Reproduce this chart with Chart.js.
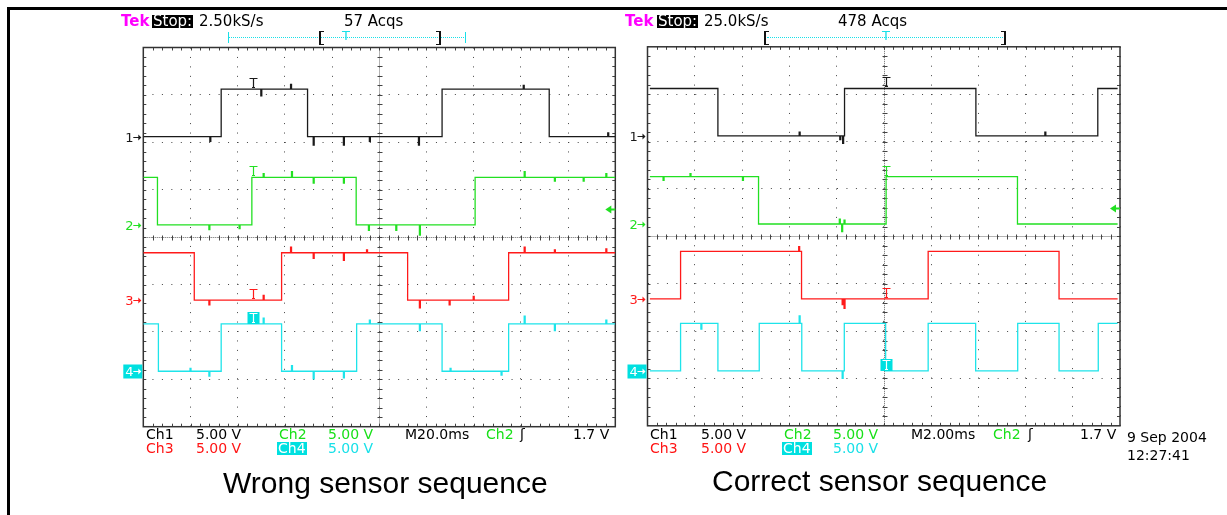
<!DOCTYPE html>
<html>
<head>
<meta charset="utf-8">
<script src="https://cdn.jsdelivr.net/npm/chart.js@4"></script>
<style>
  html, body { margin: 0; padding: 0; background: #fff; }
  #page { position: relative; width: 1227px; height: 515px; overflow: hidden; font-family: "DejaVu Sans", sans-serif; }
  #page canvas { position: absolute; left: 0; top: 0; }
  .frame { position: absolute; left: 7px; top: 7px; width: 1230px; height: 520px; border-top: 3px solid #000; border-left: 3px solid #000; }
  .t { position: absolute; font-size: 14px; line-height: 14px; white-space: pre; color: #000; }
  .top { font-size: 15px; line-height: 15px; }
  .tek { color: #ff00ff; font-weight: bold; }
  .stop { background: #000; color: #fff; height: 13px; line-height: 13px; padding: 0 1px; }
  .box4 { background: #00e0e0; color: #fff; height: 13px; line-height: 13px; padding: 0 1px; }
  .g { color: #18e018; }
  .r { color: #ff1414; }
  .c { color: #18e0e8; }
  .cap { position: absolute; font-family: "Liberation Sans", Arial, sans-serif; font-size: 30px; line-height: 30px; white-space: pre; color: #000; }
  .hline { position: absolute; height: 0; border-top: 1px dotted #18e0e8; }
  .vtick { position: absolute; width: 0; height: 11px; border-left: 1px solid #18e0e8; }
  .brk { position: absolute; width: 3px; height: 12px; border: 0 solid #111; }
</style>
</head>
<body>
<div id="page">
  <div class="frame"></div>
  <canvas id="wrongChart" width="1227" height="515"></canvas>
  <canvas id="rightChart" width="1227" height="515"></canvas>

  <!-- left scope header -->
  <div class="t top tek" style="left:121px;top:14px;">Tek</div>
  <div class="t top stop" style="left:152px;top:15px;">Stop:</div>
  <div class="t top" style="left:199px;top:14px;">2.50kS/s</div>
  <div class="t top" style="left:344px;top:14px;">57 Acqs</div>
  <div class="hline" style="left:228px;top:37px;width:238px;"></div>
  <div class="vtick" style="left:228px;top:32px;"></div>
  <div class="vtick" style="left:465px;top:32px;"></div>
  <div class="brk" style="left:319px;top:31px;border-width:1px 0 1px 2px;"></div>
  <div class="brk" style="left:436px;top:31px;border-width:1px 2px 1px 0;"></div>
  <div class="t c" style="left:342px;top:29px;font-size:13px;">T</div>

  <!-- right scope header -->
  <div class="t top tek" style="left:625px;top:14px;">Tek</div>
  <div class="t top stop" style="left:657px;top:15px;">Stop:</div>
  <div class="t top" style="left:704px;top:14px;">25.0kS/s</div>
  <div class="t top" style="left:838px;top:14px;">478 Acqs</div>
  <div class="hline" style="left:767px;top:37px;width:236px;"></div>
  <div class="brk" style="left:764px;top:31px;border-width:1px 0 1px 2px;"></div>
  <div class="brk" style="left:1001px;top:31px;border-width:1px 2px 1px 0;"></div>
  <div class="t c" style="left:882px;top:29px;font-size:13px;">T</div>

  <!-- left scope footer -->
  <div class="t" style="left:146px;top:427px;">Ch1</div>
  <div class="t" style="left:196px;top:427px;">5.00 V</div>
  <div class="t g" style="left:279px;top:427px;">Ch2</div>
  <div class="t g" style="left:328px;top:427px;">5.00 V</div>
  <div class="t" style="left:405px;top:427px;">M20.0ms</div>
  <div class="t g" style="left:486px;top:427px;">Ch2</div>
  <div class="t" style="left:520px;top:427px;">ʃ</div>
  <div class="t" style="left:573px;top:427px;">1.7 V</div>
  <div class="t r" style="left:146px;top:441px;">Ch3</div>
  <div class="t r" style="left:196px;top:441px;">5.00 V</div>
  <div class="t box4" style="left:277px;top:442px;">Ch4</div>
  <div class="t c" style="left:328px;top:441px;">5.00 V</div>

  <!-- right scope footer -->
  <div class="t" style="left:650px;top:427px;">Ch1</div>
  <div class="t" style="left:701px;top:427px;">5.00 V</div>
  <div class="t g" style="left:784px;top:427px;">Ch2</div>
  <div class="t g" style="left:833px;top:427px;">5.00 V</div>
  <div class="t" style="left:911px;top:427px;">M2.00ms</div>
  <div class="t g" style="left:993px;top:427px;">Ch2</div>
  <div class="t" style="left:1028px;top:427px;">ʃ</div>
  <div class="t" style="left:1080px;top:427px;">1.7 V</div>
  <div class="t r" style="left:650px;top:441px;">Ch3</div>
  <div class="t r" style="left:701px;top:441px;">5.00 V</div>
  <div class="t box4" style="left:782px;top:442px;">Ch4</div>
  <div class="t c" style="left:833px;top:441px;">5.00 V</div>
  <div class="t" style="left:1127px;top:430px;">9 Sep 2004</div>
  <div class="t" style="left:1127px;top:448px;">12:27:41</div>

  <div class="cap" style="left:223px;top:468px;">Wrong sensor sequence</div>
  <div class="cap" style="left:712px;top:466px;">Correct sensor sequence</div>
</div>

<script>
// Hall sensor traces read off two scope captures
// each point is [time in ms from left edge of screen, volts]; level holds until next point

const voltsPerDiv = 5;
const channelColors = ["#1a1a1a", "#22e022", "#ff1a1a", "#1ee4ea"];

// --- wrong sequence, 20 ms/div ---
const wrongTimeMax = 200;
const wrongGround = [2.12, 0.26, -1.33, -2.83];   // ground marker, divisions from centre
const wrongTrigTime = 46.4;
const wrongCh1 = [[0,0],[28.2,-0.5],[28.6,0],[33,5],[49.8,4.3],[50.2,5],[62.4,5.5],[62.8,5],[69.6,0],[72,-0.9],[72.4,0],[84.8,-0.9],[85.2,0],[95.8,-0.5],[96.2,0],[116.6,-0.9],[117,0],[126.6,5],[161,5.4],[161.4,5],[172,0],[196.8,0.4],[197.2,0],[200,0]];
const wrongCh2 = [[0,5],[6,0],[27.8,-0.5],[28.2,0],[40.6,-0.4],[41,0],[46,5],[50.8,5.4],[51.2,5],[62.8,5.6],[63.2,5],[72,4.4],[72.4,5],[84.8,4.4],[85.2,5],[90.2,0],[95.4,-0.6],[95.8,0],[107,-0.6],[107.4,0],[117,-1.1],[117.4,0],[140.6,5],[161.4,5.6],[161.8,5],[174.2,4.6],[174.6,5],[186.4,4.6],[186.8,5],[196,5.4],[196.4,5],[200,5]];
const wrongCh3 = [[0,5],[21.6,0],[27.8,-0.5],[28.2,0],[50.8,0.5],[51.2,0],[58.6,5],[62.4,5.6],[62.8,5],[72,4.4],[72.4,5],[84.8,4.2],[85.2,5],[94.6,5.3],[95,5],[112,0],[117,-0.8],[117.4,0],[129.6,-0.5],[130,0],[139.8,0.4],[140.2,0],[154.8,5],[161.4,5.6],[161.8,5],[174.2,5.3],[174.6,5],[196,5.4],[196.4,5],[200,5]];
const wrongCh4 = [[0,5],[6.4,0],[19.8,0.3],[20.2,0],[27.8,-0.5],[28.2,0],[33,5],[50.8,5.6],[51.2,5],[58.6,0],[62.8,0.6],[63.2,0],[72,-0.8],[72.4,0],[84.8,-0.7],[85.2,0],[90.4,5],[95.8,5.4],[96.2,5],[117,4.3],[117.4,5],[126.6,0],[130,0.3],[130.4,0],[151.6,-0.4],[152,0],[154.8,5],[161.4,5.8],[161.8,5],[174.2,4.3],[174.6,5],[196,5.4],[196.4,5],[200,5]];

// --- correct sequence, 2 ms/div ---
const rightTimeMax = 20;
const rightGround = [2.12, 0.26, -1.32, -2.84];
const rightTrigTime = 10.1;
const rightCh1 = [[0.1,5],[2.98,0],[6.42,0.4],[6.46,0],[8.14,-0.4],[8.18,0],[8.26,-0.8],[8.3,0],[8.34,5],[13.9,0],[16.82,0.4],[16.86,0],[19.06,5],[19.9,5]];
const rightCh2 = [[0.1,5],[0.66,4.6],[0.7,5],[1.8,5.3],[1.84,5],[4.02,4.6],[4.06,5],[4.7,0],[8.12,0.5],[8.16,0],[8.22,-0.8],[8.26,0],[8.32,0.4],[8.36,0],[10.1,5],[15.66,0],[19.9,0]];
const rightCh3 = [[0.1,0],[1.4,5],[6.4,5.5],[6.44,5],[6.52,0],[8.24,-0.6],[8.28,0],[8.32,-1],[8.36,0],[11.88,5],[17.42,0],[19.9,0]];
const rightCh4 = [[0.1,0],[1.4,5],[2.26,4.4],[2.3,5],[2.98,0],[4.73,5],[6.42,5.8],[6.46,5],[6.53,0],[8.24,-0.8],[8.28,0],[8.33,5],[10.08,0],[11.88,5],[13.89,0],[15.67,5],[17.42,0],[19.08,5],[19.9,5]];

const trigLevel = 1.7; // volts, on Ch2

function levelAt(trace, t) {
    let v = trace[0][1];
    for (const p of trace) { if (p[0] <= t) v = p[1]; }
    return v;
}

// graticule, ground markers, trigger marks
const scopePlugin = {
    id: "scope",
    beforeDatasetsDraw(chart) {
        const { ctx, chartArea: a, scales: { x, y } } = chart;
        const subX = (x.max - x.min) / 50, subY = (y.max - y.min) / 40;
        const cx = Math.round(x.getPixelForValue((x.min + x.max) / 2)) + 0.5;
        const cy = Math.round(y.getPixelForValue(0)) + 0.5;
        ctx.save();
        ctx.lineWidth = 1;
        ctx.strokeStyle = "#666";
        ctx.setLineDash([1, 1]);
        ctx.beginPath();
        ctx.moveTo(cx, a.top); ctx.lineTo(cx, a.bottom);
        ctx.moveTo(a.left, cy); ctx.lineTo(a.right, cy);
        ctx.stroke();
        ctx.setLineDash([]);
        ctx.strokeStyle = "#444";
        ctx.beginPath();
        for (let i = 1; i < 40; i++) {
            const py = Math.round(y.getPixelForValue(y.min + i * subY)) + 0.5;
            ctx.moveTo(cx - 2, py); ctx.lineTo(cx + 3, py);
            ctx.moveTo(a.left, py); ctx.lineTo(a.left + 3, py);
            ctx.moveTo(a.right - 3, py); ctx.lineTo(a.right, py);
        }
        for (let i = 1; i < 50; i++) {
            const px = Math.round(x.getPixelForValue(x.min + i * subX)) + 0.5;
            ctx.moveTo(px, cy - 2); ctx.lineTo(px, cy + 3);
            ctx.moveTo(px, a.top); ctx.lineTo(px, a.top + 3);
            ctx.moveTo(px, a.bottom - 3); ctx.lineTo(px, a.bottom);
        }
        ctx.stroke();
        ctx.strokeStyle = "#333";
        ctx.lineWidth = 1.5;
        ctx.strokeRect(a.left, a.top, a.right - a.left, a.bottom - a.top);
        ctx.restore();
    },
    afterDatasetsDraw(chart, args, opts) {
        const { ctx, chartArea: a, scales: { x, y } } = chart;
        ctx.save();
        ctx.font = "13px 'DejaVu Sans'";
        ctx.textBaseline = "middle";
        ctx.lineWidth = 1;

        // ground markers "n->"
        opts.grounds.forEach((g, i) => {
            const py = Math.round(y.getPixelForValue(g)) + 0.5;
            let col = channelColors[i];
            if (i === 3) {
                ctx.fillStyle = "#00e0e0";
                ctx.fillRect(a.left - 20, py - 7, 19, 14);
                col = "#fff";
            }
            ctx.fillStyle = col;
            ctx.strokeStyle = col;
            ctx.fillText(String(i + 1), a.left - 18, py + 1);
            ctx.beginPath();
            ctx.moveTo(a.left - 10, py); ctx.lineTo(a.left - 3, py);
            ctx.stroke();
            ctx.beginPath();
            ctx.moveTo(a.left - 2, py); ctx.lineTo(a.left - 5, py - 3); ctx.lineTo(a.left - 5, py + 3);
            ctx.fill();
        });

        // trigger level arrow on the right
        const ty = Math.round(y.getPixelForValue(opts.grounds[1] + trigLevel / voltsPerDiv)) + 0.5;
        ctx.fillStyle = channelColors[1];
        ctx.strokeStyle = channelColors[1];
        ctx.beginPath();
        ctx.moveTo(a.right - 10, ty); ctx.lineTo(a.right - 4, ty - 4); ctx.lineTo(a.right - 4, ty + 4);
        ctx.fill();
        ctx.lineWidth = 2;
        ctx.beginPath(); ctx.moveTo(a.right - 5, ty); ctx.lineTo(a.right, ty); ctx.stroke();

        // trigger point "T" on each trace
        const px = Math.round(x.getPixelForValue(opts.trigTime)) + 0.5;
        opts.traces.forEach((tr, i) => {
            const py = Math.round(y.getPixelForValue(opts.grounds[i] + levelAt(tr, opts.trigTime) / voltsPerDiv));
            let col = channelColors[i];
            if (i === 3) {
                ctx.fillStyle = "#00e0e0";
                ctx.fillRect(px - 6, py - 12, 12, 12);
                col = "#fff";
            }
            ctx.strokeStyle = col;
            ctx.lineWidth = 1.2;
            ctx.beginPath();
            ctx.moveTo(px - 4, py - 10.5); ctx.lineTo(px + 4, py - 10.5);
            ctx.moveTo(px, py - 10.5); ctx.lineTo(px, py - 1);
            ctx.moveTo(px - 1.5, py - 1.5); ctx.lineTo(px + 1.5, py - 1.5);
            ctx.stroke();
        });
        ctx.restore();
    }
};

function makeScope(canvasId, pad, timeMax, traces, grounds, trigTime) {
    const datasets = traces.map((tr, i) => ({
        data: tr.map(p => ({ x: p[0], y: grounds[i] + p[1] / voltsPerDiv })),
        borderColor: channelColors[i],
        borderWidth: 1.3,
        pointRadius: 0,
        stepped: "before",   // hold each level until the next point
        fill: false
    }));
    const axisGrid = { color: "#444", lineWidth: 1, drawTicks: false };
    const axisBorder = { display: false, dash: [1, 8.45] };
    return new Chart(document.getElementById(canvasId), {
        type: "line",
        data: { datasets },
        options: {
            responsive: false,
            animation: false,
            events: [],
            layout: { padding: pad },
            plugins: {
                legend: { display: false },
                tooltip: { enabled: false },
                scope: { grounds, trigTime, traces }
            },
            scales: {
                x: { type: "linear", min: 0, max: timeMax, ticks: { display: false, stepSize: timeMax / 10 }, grid: axisGrid, border: axisBorder },
                y: { type: "linear", min: -4, max: 4, ticks: { display: false, stepSize: 1 }, grid: axisGrid, border: axisBorder }
            }
        },
        plugins: [scopePlugin]
    });
}

makeScope("wrongChart", { left: 143.3, top: 47.5, right: 611.7, bottom: 88.3 },
    wrongTimeMax, [wrongCh1, wrongCh2, wrongCh3, wrongCh4], wrongGround, wrongTrigTime);
makeScope("rightChart", { left: 647.5, top: 46.8, right: 107, bottom: 89.2 },
    rightTimeMax, [rightCh1, rightCh2, rightCh3, rightCh4], rightGround, rightTrigTime);
</script>
</body>
</html>
